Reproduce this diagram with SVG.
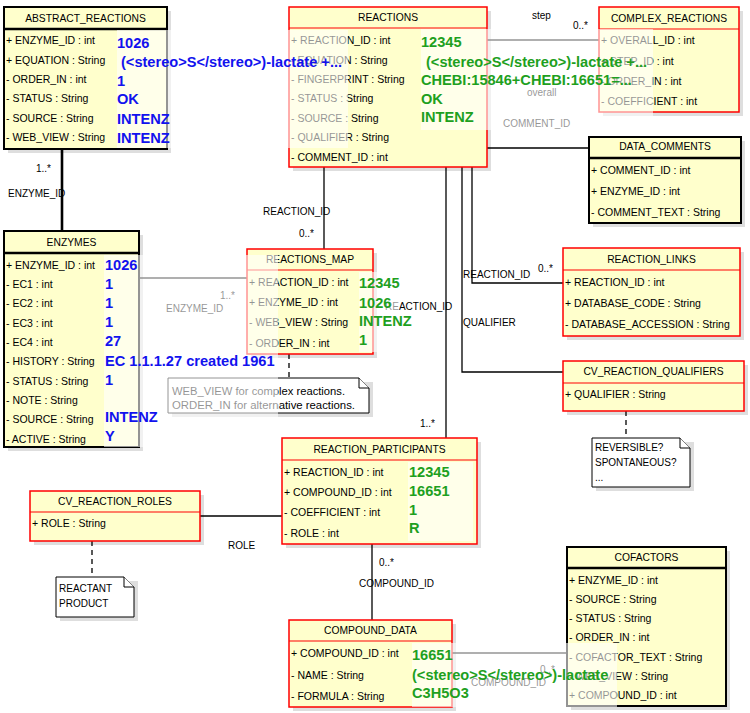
<svg xmlns="http://www.w3.org/2000/svg" width="750" height="713" viewBox="0 0 750 713">
<style>
.bg{fill:#fff}
.sh{fill:#000;opacity:0.13}
.bb{fill:#ffffcc;stroke:#000;stroke-width:2}
.br{fill:#ffffcc;stroke:#f00;stroke-width:1.5}
.hb{stroke:#000;stroke-width:2.5}
.hr{stroke:#f00;stroke-width:1.2}
.t{font-family:"Liberation Sans",Arial,sans-serif;font-size:10.5px;fill:#000}
.h{font-family:"Liberation Sans",Arial,sans-serif;font-size:10.3px;fill:#000;text-anchor:middle}
.l{font-family:"Liberation Sans",Arial,sans-serif;font-size:10px;fill:#000}
.v{font-family:"Liberation Sans",Arial,sans-serif;font-weight:bold;font-size:14.6px}
.blue{fill:#1212ee}
.green{fill:#1ea01e}
.ov{fill:#fff;opacity:0.58}
.ln{stroke:#000;stroke-width:1.3;fill:none}
.thick{stroke-width:2.6}
.dash{stroke-dasharray:5,4}
.note{fill:#fff;stroke:#000;stroke-width:1}
</style>
<rect class="bg" x="0" y="0" width="750" height="713"/>

<g id="connectors">
<path class="ln thick" d="M62,149 V231"/>
<path class="ln" d="M139,278 H247"/>
<path class="ln" d="M324,167 V249"/>
<path class="ln" d="M487,40 H599"/>
<path class="ln" d="M487,148 H589"/>
<path class="ln" d="M472,167 V283 H563"/>
<path class="ln" d="M462,167 V372 H563"/>
<path class="ln" d="M446,167 V438"/>
<path class="ln" d="M200,516 H282"/>
<path class="ln" d="M372,544 V620"/>
<path class="ln" d="M452,653 H567"/>
<path class="ln dash" d="M289,354 V378"/>
<path class="ln dash" d="M626,411 V438"/>
<path class="ln dash" d="M92,541 V577"/>
<text class="l" x="36" y="172">1..*</text>
<text class="l" x="8" y="197">ENZYME_ID</text>
<text class="l" x="220" y="299">1..*</text>
<text class="l" x="166" y="312">ENZYME_ID</text>
<text class="l" x="263" y="215">REACTION_ID</text>
<text class="l" x="299" y="237">0..*</text>
<text class="l" x="532" y="19">step</text>
<text class="l" x="573" y="29">0..*</text>
<text class="l" x="527" y="96">overall</text>
<text class="l" x="503" y="127">COMMENT_ID</text>
<text class="l" x="385" y="310">REACTION_ID</text>
<text class="l" x="463" y="278">REACTION_ID</text>
<text class="l" x="538" y="272">0..*</text>
<text class="l" x="463" y="326">QUALIFIER</text>
<text class="l" x="420" y="427">1..*</text>
<text class="l" x="228" y="549">ROLE</text>
<text class="l" x="379" y="566">0..*</text>
<text class="l" x="359" y="587">COMPOUND_ID</text>
<text class="l" x="540" y="673">0..*</text>
<text class="l" x="471" y="686">COMPOUND_ID</text>
</g>

<g id="ABSTRACT_REACTIONS">
<rect class="sh" x="8" y="11" width="163" height="142"/>
<rect class="bb" x="4" y="7" width="163" height="142"/>
<line class="hb" x1="4" y1="29" x2="167" y2="29"/>
<text class="h" x="85.5" y="22">ABSTRACT_REACTIONS</text>
<text class="t" x="6" y="44">+ ENZYME_ID : int</text>
<text class="t" x="6" y="64">+ EQUATION : String</text>
<text class="t" x="6" y="83">- ORDER_IN : int</text>
<text class="t" x="6" y="102">- STATUS : String</text>
<text class="t" x="6" y="122">- SOURCE : String</text>
<text class="t" x="6" y="141">- WEB_VIEW : String</text>
</g>

<g id="REACTIONS">
<rect class="sh" x="293" y="11" width="198" height="160"/>
<rect class="br" x="289" y="7" width="198" height="160"/>
<line class="hr" x1="289" y1="28" x2="487" y2="28"/>
<text class="h" x="388" y="21">REACTIONS</text>
<text class="t" x="291" y="44">+ REACTION_ID : int</text>
<text class="t" x="291" y="64">- EQUATION : String</text>
<text class="t" x="291" y="83">- FINGERPRINT : String</text>
<text class="t" x="291" y="102">- STATUS : String</text>
<text class="t" x="291" y="122">- SOURCE : String</text>
<text class="t" x="291" y="141">- QUALIFIER : String</text>
<text class="t" x="291" y="161">- COMMENT_ID : int</text>
</g>

<g id="COMPLEX_REACTIONS">
<rect class="sh" x="603" y="11" width="140" height="105"/>
<rect class="br" x="599" y="7" width="140" height="105"/>
<line class="hr" x1="599" y1="29" x2="739" y2="29"/>
<text class="h" x="669" y="22">COMPLEX_REACTIONS</text>
<text class="t" x="601" y="44">+ OVERALL_ID : int</text>
<text class="t" x="601" y="65">+ STEP_ID : int</text>
<text class="t" x="601" y="85">- ORDER_IN : int</text>
<text class="t" x="601" y="105">- COEFFICIENT : int</text>
</g>

<g id="DATA_COMMENTS">
<rect class="sh" x="593" y="141" width="152" height="86"/>
<rect class="bb" x="589" y="137" width="152" height="86"/>
<line class="hb" x1="589" y1="158" x2="741" y2="158"/>
<text class="h" x="665" y="150">DATA_COMMENTS</text>
<text class="t" x="591" y="174">+ COMMENT_ID : int</text>
<text class="t" x="591" y="195">+ ENZYME_ID : int</text>
<text class="t" x="591" y="216">- COMMENT_TEXT : String</text>
</g>

<g id="REACTION_LINKS">
<rect class="sh" x="567" y="252" width="177" height="88"/>
<rect class="br" x="563" y="248" width="177" height="88"/>
<line class="hr" x1="563" y1="270" x2="740" y2="270"/>
<text class="h" x="651.5" y="263">REACTION_LINKS</text>
<text class="t" x="565" y="286">+ REACTION_ID : int</text>
<text class="t" x="565" y="307">+ DATABASE_CODE : String</text>
<text class="t" x="565" y="328">- DATABASE_ACCESSION : String</text>
</g>

<g id="CV_REACTION_QUALIFIERS">
<rect class="sh" x="567" y="365" width="181" height="50"/>
<rect class="br" x="563" y="361" width="181" height="50"/>
<line class="hr" x1="563" y1="383" x2="744" y2="383"/>
<text class="h" x="653.5" y="375">CV_REACTION_QUALIFIERS</text>
<text class="t" x="565" y="398">+ QUALIFIER : String</text>
</g>

<g id="note_qualifiers">
<path class="sh" d="M596,442 H694 V491 H596 Z"/>
<path class="note" d="M592,438 H680 L690,448 V487 H592 Z"/>
<path class="note" d="M680,438 V448 H690" fill="none"/>
<text class="l" x="595" y="451">REVERSIBLE?</text>
<text class="l" x="595" y="466">SPONTANEOUS?</text>
<text class="l" x="595" y="481">...</text>
</g>

<g id="ENZYMES">
<rect class="sh" x="8" y="235" width="135" height="216"/>
<rect class="bb" x="4" y="231" width="135" height="216"/>
<line class="hb" x1="4" y1="253" x2="139" y2="253"/>
<text class="h" x="71.5" y="246">ENZYMES</text>
<text class="t" x="6" y="269">+ ENZYME_ID : int</text>
<text class="t" x="6" y="288">- EC1 : int</text>
<text class="t" x="6" y="307">- EC2 : int</text>
<text class="t" x="6" y="327">- EC3 : int</text>
<text class="t" x="6" y="346">- EC4 : int</text>
<text class="t" x="6" y="365">- HISTORY : String</text>
<text class="t" x="6" y="385">- STATUS : String</text>
<text class="t" x="6" y="404">- NOTE : String</text>
<text class="t" x="6" y="423">- SOURCE : String</text>
<text class="t" x="6" y="443">- ACTIVE : String</text>
</g>

<g id="REACTIONS_MAP">
<rect class="sh" x="251" y="253" width="126" height="105"/>
<rect class="br" x="247" y="249" width="126" height="105"/>
<line class="hr" x1="247" y1="270" x2="373" y2="270"/>
<text class="h" x="310" y="263">REACTIONS_MAP</text>
<text class="t" x="249" y="286">+ REACTION_ID : int</text>
<text class="t" x="249" y="306">+ ENZYME_ID : int</text>
<text class="t" x="249" y="326">- WEB_VIEW : String</text>
<text class="t" x="249" y="347">- ORDER_IN : int</text>
</g>

<g id="note_map">
<path class="sh" d="M172,382 H373 V417 H172 Z"/>
<path class="note" d="M168,378 H359 L369,388 V413 H168 Z"/>
<path class="note" d="M359,378 V388 H369" fill="none"/>
<text class="l" x="172" y="395" textLength="173" lengthAdjust="spacingAndGlyphs">WEB_VIEW for complex reactions.</text>
<text class="l" x="172" y="409" textLength="183" lengthAdjust="spacingAndGlyphs">ORDER_IN for alternative reactions.</text>
</g>

<g id="REACTION_PARTICIPANTS">
<rect class="sh" x="286" y="442" width="195" height="106"/>
<rect class="br" x="282" y="438" width="195" height="106"/>
<line class="hr" x1="282" y1="460" x2="477" y2="460"/>
<text class="h" x="379.5" y="453">REACTION_PARTICIPANTS</text>
<text class="t" x="284" y="476">+ REACTION_ID : int</text>
<text class="t" x="284" y="496">+ COMPOUND_ID : int</text>
<text class="t" x="284" y="516">- COEFFICIENT : int</text>
<text class="t" x="284" y="537">- ROLE : int</text>
</g>

<g id="CV_REACTION_ROLES">
<rect class="sh" x="34" y="495" width="170" height="50"/>
<rect class="br" x="30" y="491" width="170" height="50"/>
<line class="hr" x1="30" y1="512" x2="200" y2="512"/>
<text class="h" x="115" y="505">CV_REACTION_ROLES</text>
<text class="t" x="32" y="527">+ ROLE : String</text>
</g>

<g id="note_roles">
<path class="sh" d="M60,581 H138 V621 H60 Z"/>
<path class="note" d="M56,577 H124 L134,587 V617 H56 Z"/>
<path class="note" d="M124,577 V587 H134" fill="none"/>
<text class="l" x="59" y="592">REACTANT</text>
<text class="l" x="59" y="607">PRODUCT</text>
</g>

<g id="COMPOUND_DATA">
<rect class="sh" x="293" y="624" width="163" height="87"/>
<rect class="br" x="289" y="620" width="163" height="87"/>
<line class="hr" x1="289" y1="641" x2="452" y2="641"/>
<text class="h" x="370.5" y="634">COMPOUND_DATA</text>
<text class="t" x="291" y="657">+ COMPOUND_ID : int</text>
<text class="t" x="291" y="679">- NAME : String</text>
<text class="t" x="291" y="700">- FORMULA : String</text>
</g>

<g id="COFACTORS">
<rect class="sh" x="571" y="551" width="159" height="159"/>
<rect class="bb" x="567" y="547" width="159" height="159"/>
<line class="hb" x1="567" y1="568" x2="726" y2="568"/>
<text class="h" x="646.5" y="561">COFACTORS</text>
<text class="t" x="569" y="584">+ ENZYME_ID : int</text>
<text class="t" x="569" y="603">- SOURCE : String</text>
<text class="t" x="569" y="622">- STATUS : String</text>
<text class="t" x="569" y="641">- ORDER_IN : int</text>
<text class="t" x="569" y="661">- COFACTOR_TEXT : String</text>
<text class="t" x="569" y="680">- WEB_VIEW : String</text>
<text class="t" x="569" y="699">+ COMPOUND_ID : int</text>
</g>

<g id="values_abstract_reactions">
<rect class="ov" x="117" y="30" width="231" height="118"/>
<text class="v blue" x="117" y="48">1026</text>
<text class="v blue" x="121" y="67">(&lt;stereo&gt;S&lt;/stereo&gt;)-lactate +...</text>
<text class="v blue" x="117" y="86">1</text>
<text class="v blue" x="117" y="104">OK</text>
<text class="v blue" x="117" y="124">INTENZ</text>
<text class="v blue" x="117" y="143">INTENZ</text>
</g>

<g id="values_reactions">
<rect class="ov" x="421" y="29" width="232" height="101"/>
<text class="v green" x="421" y="47">12345</text>
<text class="v green" x="426" y="67">(&lt;stereo&gt;S&lt;/stereo&gt;)-lactate +...</text>
<text class="v green" x="421" y="85">CHEBI:15846+CHEBI:16651=...</text>
<text class="v green" x="421" y="104">OK</text>
<text class="v green" x="421" y="122">INTENZ</text>
</g>

<g id="values_enzymes">
<rect class="ov" x="104" y="255" width="174" height="192"/>
<text class="v blue" x="105" y="270">1026</text>
<text class="v blue" x="105" y="289">1</text>
<text class="v blue" x="105" y="308">1</text>
<text class="v blue" x="105" y="327">1</text>
<text class="v blue" x="105" y="346">27</text>
<text class="v blue" x="105" y="366">EC 1.1.1.27 created 1961</text>
<text class="v blue" x="105" y="385">1</text>
<text class="v blue" x="105" y="422">INTENZ</text>
<text class="v blue" x="105" y="441">Y</text>
</g>

<g id="values_reactions_map">
<rect class="ov" x="359" y="272" width="40" height="80"/>
<text class="v green" x="359" y="288">12345</text>
<text class="v green" x="359" y="308">1026</text>
<text class="v green" x="359" y="326">INTENZ</text>
<text class="v green" x="359" y="345">1</text>
</g>

<g id="values_reaction_participants">
<rect class="ov" x="408" y="462" width="65" height="79"/>
<text class="v green" x="409" y="477">12345</text>
<text class="v green" x="409" y="496">16651</text>
<text class="v green" x="409" y="515">1</text>
<text class="v green" x="409" y="533">R</text>
</g>

<g id="values_compound_data">
<rect class="ov" x="412" y="643" width="205" height="64"/>
<text class="v green" x="412" y="660">16651</text>
<text class="v green" x="412" y="680">(&lt;stereo&gt;S&lt;/stereo&gt;)-lactate</text>
<text class="v green" x="412" y="698">C3H5O3</text>
</g>
</svg>
